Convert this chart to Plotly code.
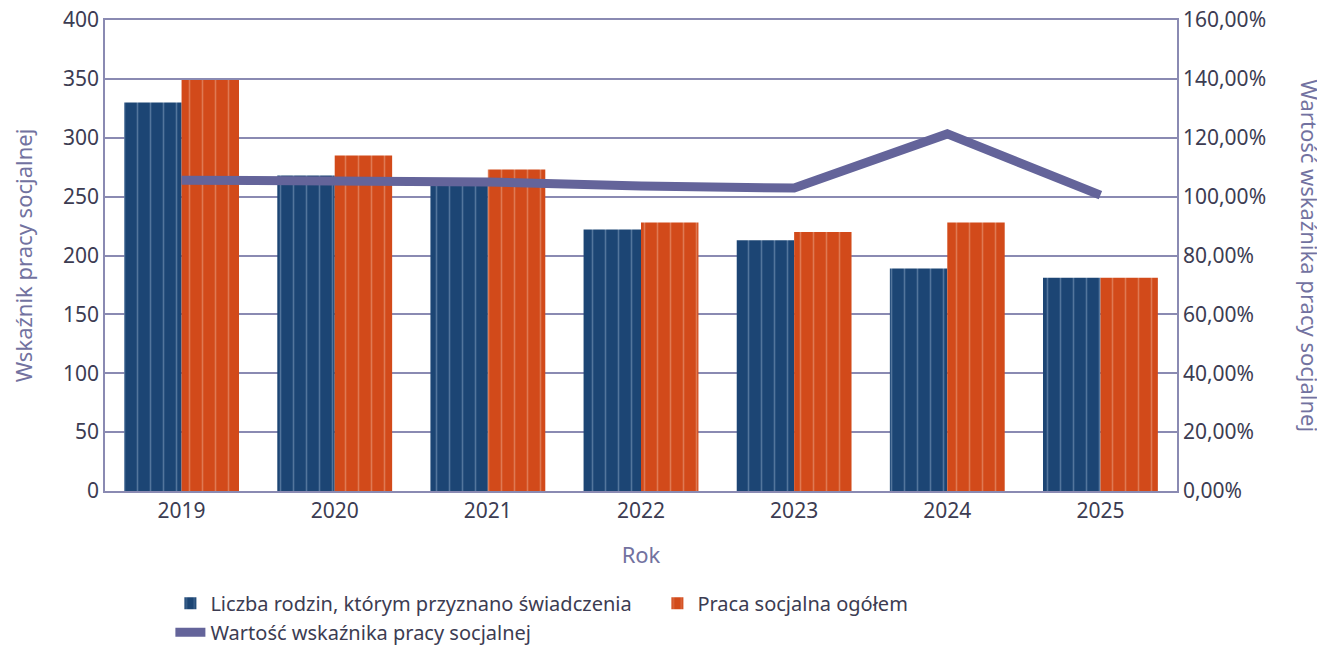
import plotly.graph_objects as go

# Data
years = ['2019', '2020', '2021', '2022', '2023', '2024', '2025']
rodziny = [330, 268, 261, 222, 213, 189, 181]
praca_ogolem = [349, 285, 273, 228, 220, 228, 181]
wskaznik = [1.056, 1.056, 1.050, 1.036, 1.029, 1.213, 1.005]

font_family = "Noto Sans"
tick_color = '#3c3c52'
title_color = '#7272a0'
grid_color = '#8a8ab2'

fig = go.Figure()

fig.add_trace(go.Bar(
    name='Liczba rodzin, którym przyznano świadczenia',
    x=years, y=rodziny,
    marker=dict(color='#1c4574', line=dict(width=0),
                pattern=dict(shape='|', fgcolor='#8aa6c4', size=13, solidity=0.12)),
))
fig.add_trace(go.Bar(
    name='Praca socjalna ogółem',
    x=years, y=praca_ogolem,
    marker=dict(color='#d24a1a', line=dict(width=0),
                pattern=dict(shape='|', fgcolor='#eba88c', size=13, solidity=0.12)),
))
fig.add_trace(go.Scatter(
    name='Wartość wskaźnika pracy socjalnej',
    x=years, y=wskaznik, yaxis='y2',
    mode='lines', line=dict(color='#64649a', width=9),
))

# page body adds 8px offset, so the figure is a bit smaller
fig.update_layout(
    width=1317, height=637,
    margin=dict(l=97, r=148, t=12, b=154, autoexpand=False),
    plot_bgcolor='white', paper_bgcolor='white',
    font=dict(family=font_family, size=21, color=tick_color),
    separators=', ',
    barmode='group', bargap=0.25, bargroupgap=0,
    xaxis=dict(
        title=dict(text='Rok', font=dict(size=22, color=title_color), standoff=25),
        showline=True, linecolor=grid_color, linewidth=1.5, mirror=True,
        ticks='', tickfont=dict(size=21), automargin=False,
    ),
    yaxis=dict(
        title=dict(text='Wskaźnik pracy socjalnej', font=dict(size=22, color=title_color), standoff=28),
        range=[0, 400], dtick=50,
        showgrid=True, gridcolor=grid_color, gridwidth=1.5,
        showline=True, linecolor=grid_color, linewidth=1.5,
        zeroline=False, ticks='', tickfont=dict(size=21), automargin=False,
        ticklabeloverflow='allow',
    ),
    yaxis2=dict(
        overlaying='y', side='right',
        range=[0, 1.6], dtick=0.2, tickformat='.2%',
        showgrid=False, showline=True, linecolor=grid_color, linewidth=1.5,
        zeroline=False, ticks='', tickfont=dict(size=21), automargin=False,
        ticklabeloverflow='allow',
    ),
    legend=dict(
        orientation='h', x=0.061, xanchor='left', y=-0.197, yanchor='top',
        font=dict(size=20, color=tick_color),
        entrywidth=442, entrywidthmode='pixels',
        traceorder='normal', tracegroupgap=0, maxheight=120,
    ),
    annotations=[dict(
        text='Wartość wskaźnika pracy socjalnej',
        xref='paper', yref='paper', x=1.0, xanchor='center', xshift=133, y=0.5,
        textangle=90, showarrow=False,
        font=dict(size=22, color=title_color),
    )],
)

fig.write_html("out.html")
